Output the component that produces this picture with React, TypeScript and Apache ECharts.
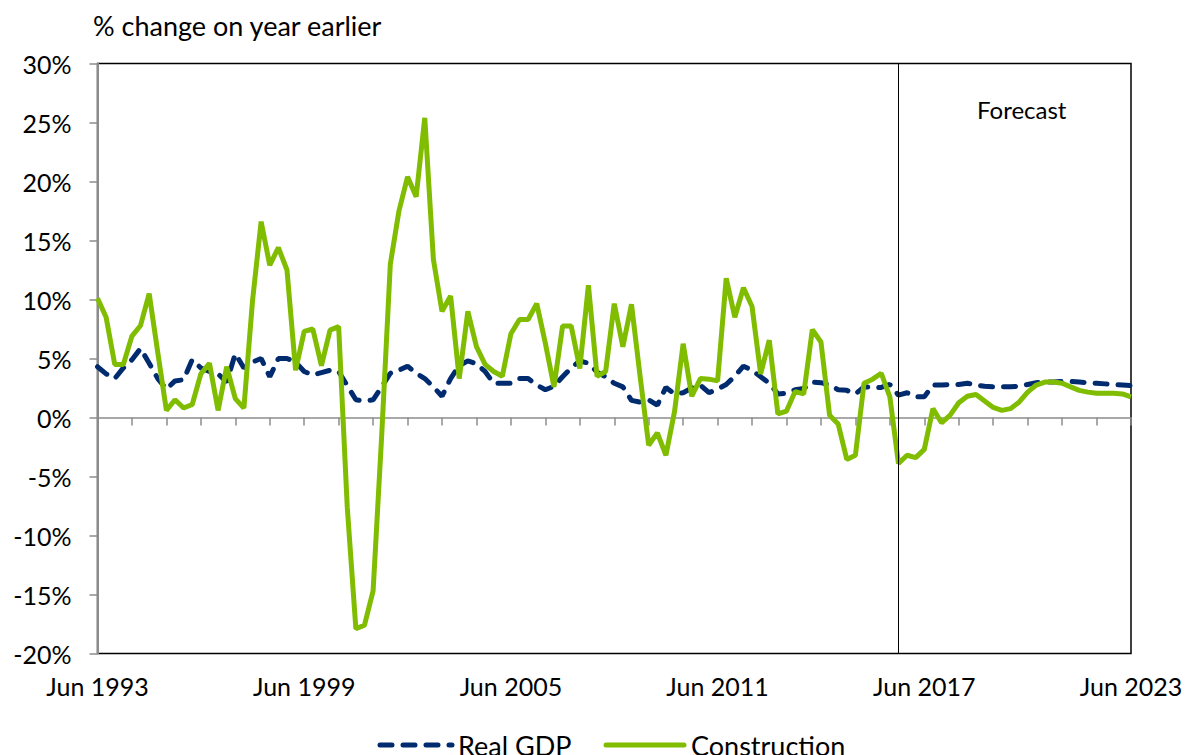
import React, { useEffect, useRef } from "react";
import * as echarts from "echarts";

const START_YEAR = 1993;
const QUARTER_MONTHS = ["Mar", "Jun", "Sep", "Dec"];
const POINT_COUNT = 121;

const quarters: string[] = [];
for (let k = 0; k < POINT_COUNT; k++) {
  const q = 1 + k;
  const year = START_YEAR + Math.floor(q / 4);
  quarters.push(`${QUARTER_MONTHS[q % 4]} ${year}`);
}

const yTicks = [-20, -15, -10, -5, 0, 5, 10, 15, 20, 25, 30];

const seriesNames = ["Real GDP", "Construction"];
const seriesColors = ["#002b6f", "#80bc00"];

const realGdp: number[] = [
  4.3, 3.7, 3.3, 4.2, 4.9, 5.85, 4.6, 3.3, 2.4, 3.1,
  3.2, 4.9, 4.2, 3.9, 3.7, 3.0, 5.4, 4.2, 4.7, 5.0,
  3.45, 5.0, 5.0, 4.7, 3.9, 3.6, 3.8, 4.0, 3.9, 2.7,
  1.5, 1.4, 1.5, 2.6, 3.75, 4.0, 4.35, 3.75, 3.3, 2.6,
  1.8, 3.3, 4.4, 4.8, 4.55, 3.9, 2.9, 2.9, 2.9, 3.3,
  3.3, 2.75, 2.35, 2.65, 3.45, 4.2, 4.8, 4.6, 3.85, 3.45,
  2.9, 2.6, 1.45, 1.3, 1.5, 1.05, 2.55, 2.0, 2.1, 2.5,
  2.75, 2.1, 2.4, 2.8, 3.5, 4.35, 4.0, 3.45, 2.9, 2.0,
  2.05, 2.35, 2.45, 3.0, 2.95, 2.75, 2.35, 2.3, 2.0, 2.6,
  2.55, 2.55, 2.8, 1.9, 2.1, 1.75, 1.75, 2.75, 2.75, 2.8,
  2.8, 2.9, 2.75, 2.65, 2.6, 2.6, 2.6, 2.65, 2.8, 2.95,
  3.0, 3.0, 3.05, 3.05, 3.0, 2.95, 2.9, 2.85, 2.8, 2.75,
  2.7,
];

const construction: number[] = [
  10.1, 8.5, 4.5, 4.5, 6.9, 7.8, 10.5, 5.5, 0.6, 1.5,
  0.8, 1.1, 3.7, 4.6, 0.6, 4.3, 1.6, 0.8, 9.9, 16.6,
  12.9, 14.4, 12.5, 4.0, 7.3, 7.5, 4.4, 7.4, 7.7, -7.6,
  -17.9, -17.6, -14.7, -1.5, 13.0, 17.5, 20.4, 18.7, 25.4, 13.4,
  9.0, 10.3, 3.3, 9.0, 6.0, 4.5, 3.9, 3.5, 7.1, 8.3,
  8.3, 9.65, 6.3, 2.6, 7.75, 7.75, 4.15, 11.2, 3.5, 3.9,
  9.65, 6.0, 9.6, 3.5, -2.35, -1.3, -3.2, 0.5, 6.25, 1.8,
  3.3, 3.25, 3.1, 11.8, 8.5, 11.0, 9.4, 3.7, 6.55, 0.3,
  0.55, 2.2, 2.0, 7.45, 6.4, 0.2, -0.55, -3.55, -3.2, 2.9,
  3.25, 3.75, 1.75, -3.9, -3.2, -3.4, -2.7, 0.75, -0.45, 0.2,
  1.25, 1.8, 1.95, 1.4, 0.85, 0.6, 0.75, 1.3, 2.15, 2.75,
  3.0, 3.0, 2.9, 2.6, 2.3, 2.15, 2.05, 2.05, 2.05, 2.0,
  1.75,
];

const FORECAST_START = "Sep 2016";
const FONT = "Lato, 'Open Sans', sans-serif";
const GDP_DASH = [12, 11];

export default function App() {
  const ref = useRef<HTMLDivElement>(null);
  useEffect(() => {
    if (!ref.current) return;
    const chart = echarts.init(ref.current, undefined, { renderer: "svg" });
    const legendY = 745;
    const option: any = {
      animation: false,
      backgroundColor: "#ffffff",
      textStyle: { fontFamily: FONT },
      grid: {
        left: 97.5,
        right: 58,
        top: 63.5,
        bottom: 101.5,
        show: true,
        borderColor: "#000000",
        borderWidth: 1.5,
        backgroundColor: "transparent",
      },
      xAxis: [
        {
          type: "category",
          data: quarters,
          boundaryGap: false,
          position: "bottom",
          axisLine: { show: false, onZero: false },
          axisTick: { show: false },
          splitLine: { show: false },
          axisLabel: {
            interval: 23,
            margin: 20,
            fontSize: 25,
            color: "#000",
            fontFamily: FONT,
          },
        },
        {
          type: "category",
          data: quarters,
          boundaryGap: false,
          position: "bottom",
          axisLine: {
            show: true,
            onZero: true,
            lineStyle: { color: "#8c8c8c", width: 1.5 },
          },
          axisTick: {
            show: true,
            interval: 3,
            length: 8,
            lineStyle: { color: "#8c8c8c", width: 1.5 },
          },
          axisLabel: { show: false },
          splitLine: { show: false },
        },
      ],
      yAxis: {
        type: "value",
        min: yTicks[0],
        max: yTicks[yTicks.length - 1],
        interval: 5,
        axisLine: { show: true, lineStyle: { color: "#8c8c8c", width: 2 } },
        axisTick: { show: true, length: 8, lineStyle: { color: "#8c8c8c", width: 1.5 } },
        splitLine: { show: false },
        axisLabel: {
          formatter: "{value}%",
          margin: 26,
          fontSize: 25,
          color: "#000",
          fontFamily: FONT,
        },
      },
      series: [
        {
          name: seriesNames[0],
          type: "line",
          xAxisIndex: 0,
          data: realGdp,
          symbol: "none",
          z: 2,
          itemStyle: { color: seriesColors[0] },
          lineStyle: { color: seriesColors[0], width: 5, type: GDP_DASH, cap: "round" },
        },
        {
          name: seriesNames[1],
          type: "line",
          xAxisIndex: 0,
          data: construction,
          symbol: "none",
          z: 3,
          itemStyle: { color: seriesColors[1] },
          lineStyle: { color: seriesColors[1], width: 5 },
          markLine: {
            silent: true,
            symbol: "none",
            label: { show: false },
            lineStyle: { color: "#000", width: 1, type: "solid" },
            data: [{ xAxis: FORECAST_START }],
          },
        },
      ],
      graphic: [
        {
          type: "text",
          left: 93,
          top: 12,
          style: {
            text: "% change on year earlier",
            fontSize: 27,
            fontFamily: FONT,
            fill: "#000",
          },
        },
        {
          type: "text",
          left: 977,
          top: 97,
          style: {
            text: "Forecast",
            fontSize: 24,
            fontFamily: FONT,
            fill: "#000",
          },
        },
        {
          type: "line",
          shape: { x1: 380, y1: legendY, x2: 452, y2: legendY },
          style: {
            stroke: seriesColors[0],
            lineWidth: 5,
            lineDash: GDP_DASH,
            lineCap: "round",
          },
        },
        {
          type: "text",
          x: 458,
          y: legendY,
          style: {
            text: seriesNames[0],
            fontSize: 27,
            fontFamily: FONT,
            fill: "#000",
            textVerticalAlign: "middle",
            verticalAlign: "middle",
          },
        },
        {
          type: "line",
          shape: { x1: 606, y1: legendY, x2: 684, y2: legendY },
          style: { stroke: seriesColors[1], lineWidth: 5, lineCap: "round" },
        },
        {
          type: "text",
          x: 691,
          y: legendY,
          style: {
            text: seriesNames[1],
            fontSize: 27,
            fontFamily: FONT,
            fill: "#000",
            textVerticalAlign: "middle",
            verticalAlign: "middle",
          },
        },
      ],
    };
    chart.setOption(option);
    return () => chart.dispose();
  }, []);
  return (
    <div
      ref={ref}
      style={{ position: "fixed", left: 0, top: 0, width: 1189, height: 755, background: "#fff" }}
    />
  );
}
